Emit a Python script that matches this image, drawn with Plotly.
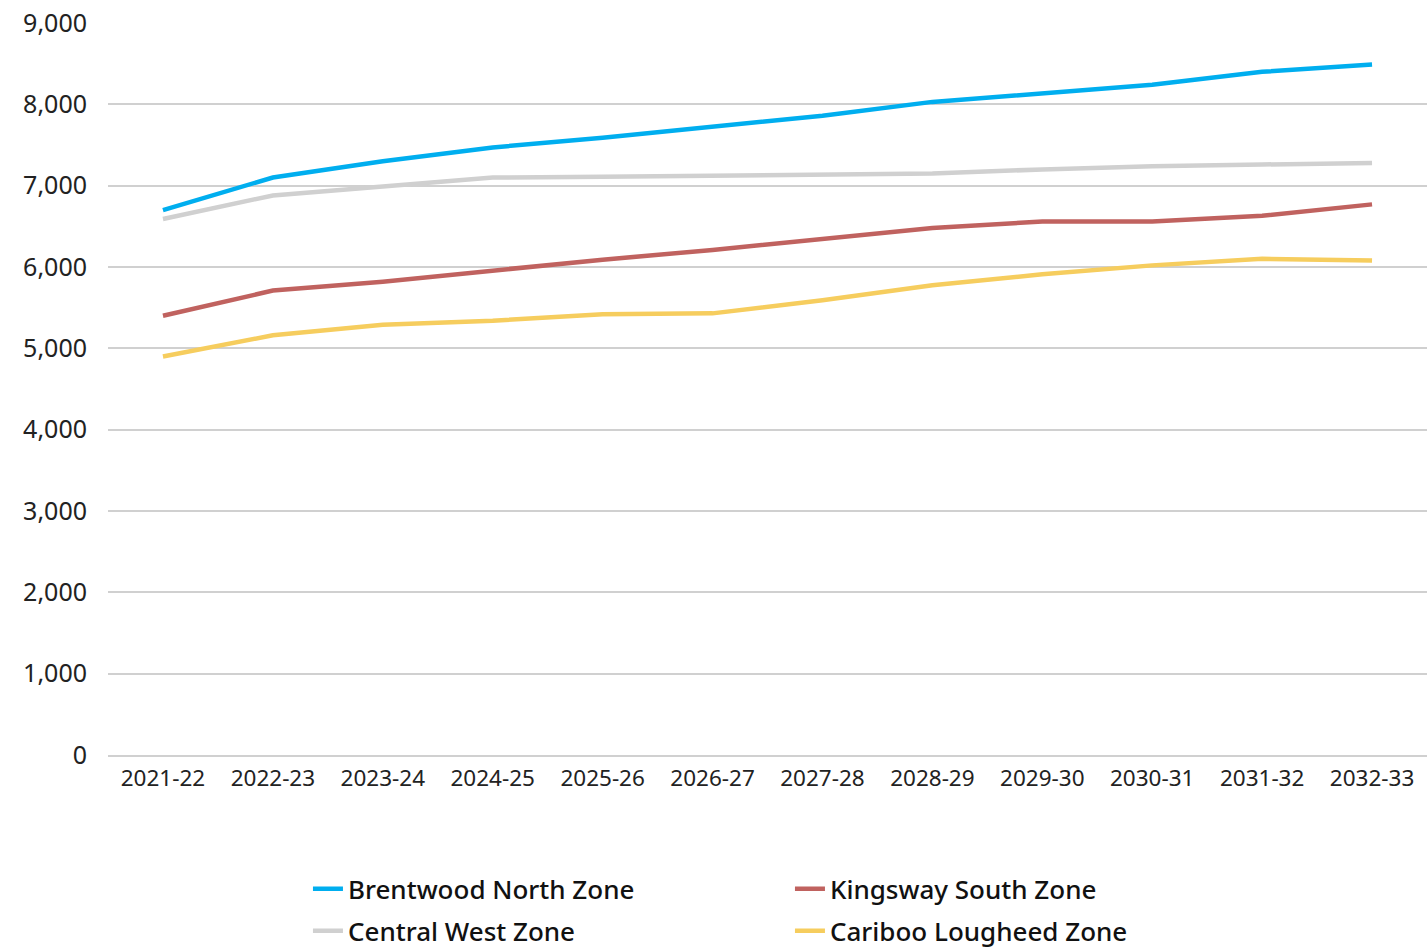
import plotly.graph_objects as go

years = ["2021-22", "2022-23", "2023-24", "2024-25", "2025-26", "2026-27",
         "2027-28", "2028-29", "2029-30", "2030-31", "2031-32", "2032-33"]

brentwood_north = [6700, 7100, 7300, 7470, 7590, 7720, 7860, 8030, 8140, 8240, 8400, 8490]
kingsway_south = [5400, 5710, 5820, 5960, 6090, 6210, 6340, 6480, 6560, 6560, 6630, 6770]
central_west = [6590, 6880, 6990, 7100, 7110, 7125, 7135, 7150, 7200, 7240, 7260, 7280]
cariboo_lougheed = [4900, 5160, 5290, 5340, 5420, 5430, 5590, 5775, 5910, 6020, 6100, 6080]

y_ticks = [0, 1000, 2000, 3000, 4000, 5000, 6000, 7000, 8000, 9000]

series = [
    ("Brentwood North Zone", brentwood_north, "#00AEEF", "legend"),
    ("Kingsway South Zone", kingsway_south, "#C0625F", "legend"),
    ("Central West Zone", central_west, "#D0D0D0", "legend2"),
    ("Cariboo Lougheed Zone", cariboo_lougheed, "#F6CD5E", "legend2"),
]

fig = go.Figure()
draw_order = [2, 0, 1, 3]
for i in draw_order:
    name, vals, color, leg = series[i]
    fig.add_trace(go.Scatter(
        x=years, y=vals, name=name, mode="lines",
        line=dict(color=color, width=4.5),
        legend=leg, legendrank=i,
    ))

legend_font = dict(family="Noto Sans", size=26, color="#111111", weight=500)

fig.update_layout(
    width=1427, height=951,
    margin=dict(l=108, r=0, t=23, b=196, autoexpand=False),
    paper_bgcolor="white", plot_bgcolor="white",
    showlegend=True,
    legend=dict(orientation="h", x=0.1516, y=-0.183, xanchor="left", yanchor="middle",
                font=legend_font, entrywidth=437, traceorder="normal",
                bgcolor="rgba(0,0,0,0)"),
    legend2=dict(orientation="h", x=0.1516, y=-0.2404, xanchor="left", yanchor="middle",
                 font=legend_font, entrywidth=437, traceorder="normal",
                 bgcolor="rgba(0,0,0,0)"),
    font=dict(family="Noto Sans", color="#222222"),
)

fig.update_xaxes(
    type="category", range=[-0.5, 11.5], automargin=False,
    showgrid=False, zeroline=False,
    showline=True, linecolor="#D0D0D0", linewidth=2,
    tickfont=dict(family="Noto Sans", size=22.5, color="#222222"),
    ticks="", ticklabelstandoff=2,
)
fig.update_yaxes(
    range=[0, 9000], tickvals=y_ticks, tickformat=",d", automargin=False,
    showgrid=True, gridcolor="#D0D0D0", gridwidth=2,
    zeroline=False, showline=False, ticks="",
    tickfont=dict(family="Noto Sans", size=25, color="#222222"),
    ticklabelstandoff=20,
)

fig.write_html("out.html", config={"displayModeBar": False},
               post_script="document.body.style.margin='0';document.body.style.overflow='hidden';")
